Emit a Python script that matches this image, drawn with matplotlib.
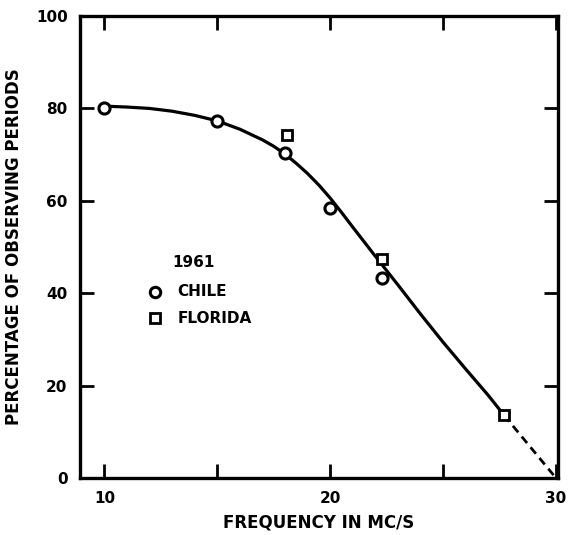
import matplotlib
matplotlib.use("Agg")
import matplotlib.pyplot as plt

# data
chile_f = [10.0, 15.0, 18.0, 20.0, 22.3]
chile_pct = [80.2, 77.2, 70.3, 58.4, 43.4]
florida_f = [18.1, 22.3, 27.7]
florida_pct = [74.2, 47.5, 13.6]

# hand-drawn fitted curve (solid part) and its dashed extrapolation
curve_f = [10, 11, 12, 13, 14, 15, 16, 17, 17.5, 18, 18.5, 19, 19.5, 20, 20.5,
           21, 22, 23, 24, 25, 26, 27, 27.7]
curve_pct = [80.5, 80.3, 80.0, 79.4, 78.5, 77.3, 75.5, 73.2, 71.8, 70.1, 68.1,
             65.9, 63.4, 60.6, 57.5, 54.3, 48.0, 41.8, 35.5, 29.4, 23.6, 17.9, 13.6]
extrap_f = [27.7, 30.0]
extrap_pct = [13.6, 0.0]

xticks = [10, 15, 20, 25, 30]
xticklabels = ["10", "", "20", "", "30"]
yticks = [0, 20, 40, 60, 80, 100]


def main():
    plt.rcParams['font.family'] = 'DejaVu Sans'
    plt.rcParams['font.weight'] = 'bold'
    fig = plt.figure(figsize=(5.68, 5.35), dpi=100, facecolor='w')
    ax = fig.add_axes([0.141, 0.1065, 0.841, 0.8635])

    ax.plot(curve_f, curve_pct, 'k-', lw=2.3, zorder=2, solid_joinstyle='round')
    ax.plot(extrap_f, extrap_pct, 'k--', lw=2.0, dashes=(3, 2), zorder=2)
    ax.plot(chile_f, chile_pct, 'o', ms=8, mfc='w', mec='k', mew=2.2, zorder=3)
    ax.plot(florida_f, florida_pct, 's', ms=7, mfc='w', mec='k', mew=2.0, zorder=3)

    # inline key
    ax.text(13.0, 46.6, "1961", fontsize=11, fontweight='bold', va='center')
    ax.plot([12.25], [40.3], 'o', ms=7.5, mfc='w', mec='k', mew=2.2)
    ax.text(13.23, 40.3, "CHILE", fontsize=11, fontweight='bold', va='center')
    ax.plot([12.25], [34.6], 's', ms=6.5, mfc='w', mec='k', mew=2.0)
    ax.text(13.23, 34.6, "FLORIDA", fontsize=11, fontweight='bold', va='center')

    ax.set_xlim(8.92, 30.08)
    ax.set_ylim(0, 100)
    ax.set_xticks(xticks)
    ax.set_xticklabels(xticklabels)
    ax.set_yticks(yticks)
    ax.set_yticklabels([str(v) for v in yticks])

    for s in ax.spines.values():
        s.set_linewidth(2.4)
    ax.tick_params(direction='in', length=10, width=2, top=True, right=True,
                   labelsize=11, pad=9)

    ax.set_xlabel("FREQUENCY IN MC/S", fontsize=12, fontweight='bold', labelpad=6)
    ax.set_ylabel("PERCENTAGE OF OBSERVING PERIODS", fontsize=12, fontweight='bold',
                  labelpad=9)

    fig.savefig('out.png', dpi=100, facecolor='w')


if __name__ == '__main__':
    main()
